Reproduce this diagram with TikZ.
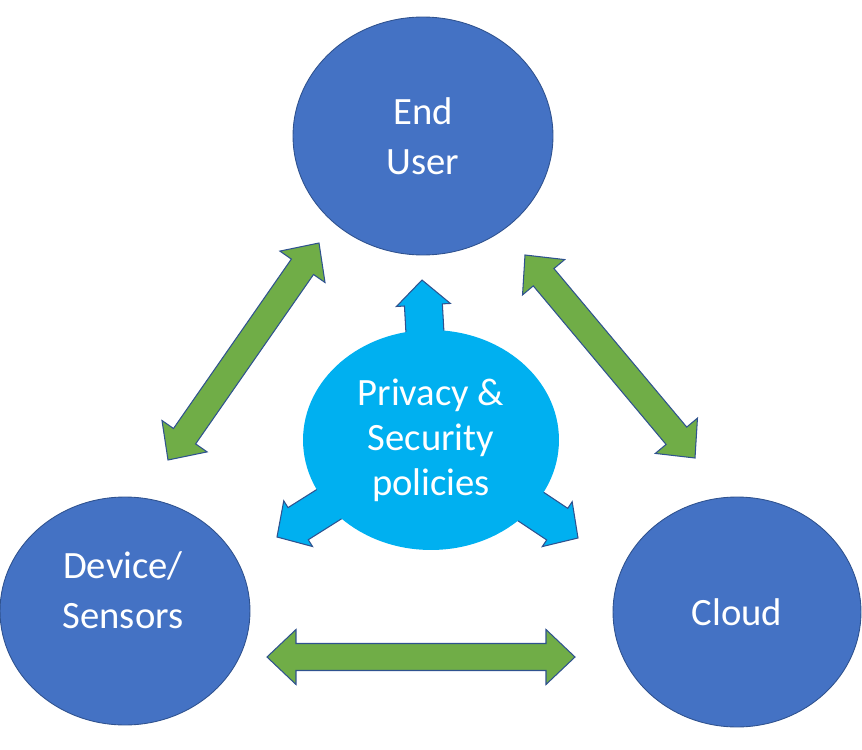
\documentclass[tikz,border=0pt]{standalone}
\usepackage{fontspec}
\setmainfont{Carlito}
\usepackage{tikz}
\usetikzlibrary{calc}
\usetikzlibrary{shapes.geometric}
\definecolor{partyblue}{HTML}{4472C4}
\definecolor{linkgreen}{HTML}{70AD47}
\definecolor{policyblue}{HTML}{00B0F0}
\definecolor{rimblue}{HTML}{2F528F}
\def\lshaft{0.27cm}
\def\lhead{0.55cm}
\def\llen{0.58cm}
\def\pshaft{0.38cm}
\def\phead{0.54cm}
\def\plen{0.5cm}
% two-headed block arrow between two named points
\newcommand{\linkarrow}[2]{%
	\path[link arrow] (#1)
	-- ($(#1)!\llen!(#2)!\lhead!90:(#2)$) -- ($(#1)!\llen!(#2)!\lshaft!90:(#2)$)
	-- ($(#2)!\llen!(#1)!\lshaft!90:(#2)$) -- ($(#2)!\llen!(#1)!\lhead!90:(#2)$)
	-- (#2)
	-- ($(#2)!\llen!(#1)!\lhead!-90:(#2)$) -- ($(#2)!\llen!(#1)!\lshaft!-90:(#2)$)
	-- ($(#1)!\llen!(#2)!\lshaft!-90:(#2)$) -- ($(#1)!\llen!(#2)!\lhead!-90:(#2)$)
	-- cycle;}
% one-headed block arrow out of the policy node
\newcommand{\policyarrow}[2]{%
	\path[policy arrow] ($(#1)!\pshaft!90:(#2)$)
	-- ($(#2)!\plen!(#1)!\pshaft!90:(#2)$) -- ($(#2)!\plen!(#1)!\phead!90:(#2)$)
	-- (#2)
	-- ($(#2)!\plen!(#1)!\phead!-90:(#2)$) -- ($(#2)!\plen!(#1)!\pshaft!-90:(#2)$)
	-- ($(#1)!\pshaft!-90:(#2)$) -- cycle;}

\begin{document}
\begin{tikzpicture}[x=0.02cm, y=-0.02cm]
	\tikzstyle{party}=[ellipse, fill=partyblue, draw=rimblue, line width=0.5pt, inner sep=0pt]
	\tikzstyle{party text}=[text=white, align=center, font=\fontsize{22}{28.5}\selectfont]
	\tikzstyle{policy}=[ellipse, fill=policyblue, inner sep=0pt, text=white, align=center, font=\fontsize{22}{25.6}\selectfont]
	\tikzstyle{link arrow}=[fill=linkgreen, draw=rimblue, line width=0.6pt]
	\tikzstyle{policy arrow}=[fill=policyblue, draw=rimblue, line width=0.6pt]
	
	\useasboundingbox (0,0) rectangle (862,750);
	
	% Draw the three parties
	\node[party, party text, minimum width=5.2cm, minimum height=4.76cm] (user) at (423,136) {End\\User};
	\node[party, minimum width=5cm, minimum height=4.56cm] (dev) at (125,611) {};
	\node[party text] (dev-txt) at (123,590) {Device/\\Sensors};
	\node[party, party text, minimum width=4.96cm, minimum height=4.6cm] (cloud) at (737,612) {Cloud};
	
	% Tips of the arrows
	\coordinate (ud-a) at (168,460);
	\coordinate (ud-b) at (319,243);
	\coordinate (uc-a) at (525,255);
	\coordinate (uc-b) at (695,458);
	\coordinate (dc-a) at (267,657);
	\coordinate (dc-b) at (575,657);
	\coordinate (pol-up) at (422,280);
	\coordinate (pol-dev) at (277,537);
	\coordinate (pol-cloud) at (578,538);
	
	% Connect the parties
	\foreach \a / \b in {ud-a/ud-b, uc-a/uc-b, dc-a/dc-b}
	\linkarrow{\a}{\b};
	
	% Draw the policies in the middle
	\coordinate (pol-c) at (431,440);
	\foreach \tip in {pol-up, pol-dev, pol-cloud}
	\policyarrow{pol-c}{\tip};
	\node[policy, minimum width=5.12cm, minimum height=4.4cm] (pol) at (pol-c) {Privacy \&\\Security\\policies};
	
\end{tikzpicture}
\end{document}
